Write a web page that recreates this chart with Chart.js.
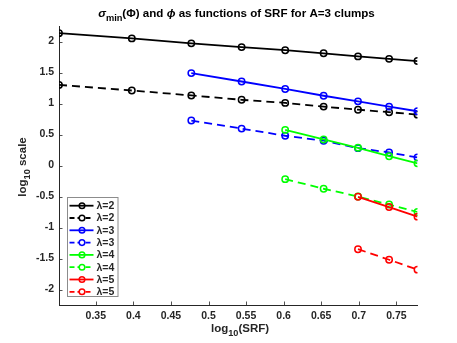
<!DOCTYPE html>
<html>
<head>
<meta charset="utf-8">
<script src="https://cdn.jsdelivr.net/npm/chart.js@4"></script>
<style>
  html, body { margin: 0; padding: 0; background: #fff; }
  canvas { display: block; }
</style>
</head>
<body>
<canvas id="myChart" width="457" height="343"></canvas>
<script>
// SRF values (x axis is log10 of these)
const srf = [2, 2.5, 3, 3.5, 4, 4.5, 5, 5.5, 6];

// log10 of sigma_min(Phi) (solid) and phi (dashed), by lambda
const lam2Sigma = [2.135, 2.05, 1.97, 1.91, 1.86, 1.81, 1.76, 1.72, 1.685];
const lam2Phi = [1.30, 1.21, 1.13, 1.06, 1.01, 0.95, 0.90, 0.86, 0.82];
const lam3Sigma = [1.49, 1.355, 1.235, 1.125, 1.035, 0.95, 0.875];
const lam3Phi = [0.725, 0.595, 0.48, 0.40, 0.28, 0.21, 0.13];
const lam4Sigma = [0.574, 0.42, 0.286, 0.15, 0.035];
const lam4Phi = [-0.22, -0.375, -0.5, -0.63, -0.75];
const lam5Sigma = [-0.505, -0.67, -0.825];
const lam5Phi = [-1.35, -1.52, -1.68];

const xTicks = [0.35, 0.4, 0.45, 0.5, 0.55, 0.6, 0.65, 0.7, 0.75];
const yTicks = [-2, -1.5, -1, -0.5, 0, 0.5, 1, 1.5, 2];
const legendLabels = ['λ=2', 'λ=2', 'λ=3', 'λ=3', 'λ=4', 'λ=4', 'λ=5', 'λ=5'];

const axisColor = '#262626';
const font = 'Liberation Sans, Arial, Helvetica, sans-serif';

// series start at the tail of srf
function toPoints(values) {
    const start = srf.length - values.length;
    return values.map((v, i) => ({ x: Math.log10(srf[start + i]), y: v }));
}

function makeSet(label, values, color, dashed, idx) {
    return {
        label: label,
        data: toPoints(values),
        borderColor: color,
        backgroundColor: '#fff',
        borderWidth: 1.8,
        borderDash: dashed ? [8, 5] : [],
        pointRadius: 3.2,
        pointBorderWidth: 1.5,
        pointBackgroundColor: 'rgba(255,255,255,0)',
        pointBorderColor: color,
        pointStyle: 'circle',
        tension: 0,
        order: 20 - idx,
    };
}

const seriesList = [lam2Sigma, lam2Phi, lam3Sigma, lam3Phi, lam4Sigma, lam4Phi, lam5Sigma, lam5Phi];
const seriesColors = ['#000000', '#000000', '#0000ff', '#0000ff', '#00ff00', '#00ff00', '#ff0000', '#ff0000'];
const datasets = seriesList.map((s, i) => makeSet(legendLabels[i], s, seriesColors[i], i % 2 === 1, i));

// draws text parts left to right, with subscripts and italics
function drawParts(ctx, parts, size) {
    let total = 0;
    parts.forEach(p => {
        ctx.font = (p.italic ? 'italic ' : '') + 'bold ' + (p.sub ? size * 0.8 : size) + 'px ' + font;
        p.w = ctx.measureText(p.t).width;
        total += p.w;
    });
    let x = -total / 2;
    parts.forEach(p => {
        ctx.font = (p.italic ? 'italic ' : '') + 'bold ' + (p.sub ? size * 0.8 : size) + 'px ' + font;
        ctx.fillText(p.t, x, p.sub ? size * 0.35 : 0);
        x += p.w;
    });
}

const decorPlugin = {
    id: 'decor',
    beforeDatasetsDraw(chart) {
        const ctx = chart.ctx;
        const area = chart.chartArea;
        const xs = chart.scales.x;
        const ys = chart.scales.y;
        ctx.save();
        ctx.strokeStyle = axisColor;
        ctx.lineWidth = 0.8;
        ctx.beginPath();
        xTicks.forEach(v => {
            const px = Math.round(xs.getPixelForValue(v)) + 0.5;
            ctx.moveTo(px, area.bottom);
            ctx.lineTo(px, area.bottom - 3.5);
        });
        yTicks.forEach(v => {
            const py = Math.round(ys.getPixelForValue(v)) + 0.5;
            ctx.moveTo(area.left, py);
            ctx.lineTo(area.left + 3.5, py);
        });
        ctx.stroke();
        ctx.restore();
    },
    afterDraw(chart) {
        const ctx = chart.ctx;
        const area = chart.chartArea;
        ctx.save();
        ctx.fillStyle = '#000';
        ctx.textBaseline = 'alphabetic';
        ctx.textAlign = 'left';

        // title
        ctx.save();
        ctx.translate(236.5, 17);
        drawParts(ctx, [
            { t: 'σ', italic: true },
            { t: 'min', sub: true },
            { t: '(Φ) and ' },
            { t: 'ϕ', italic: true },
            { t: ' as functions of SRF for A=3 clumps' },
        ], 11.6);
        ctx.restore();

        // x label
        ctx.fillStyle = axisColor;
        ctx.save();
        ctx.translate(240, 332);
        drawParts(ctx, [{ t: 'log' }, { t: '10', sub: true }, { t: '(SRF)' }], 11.5);
        ctx.restore();

        // y label
        ctx.save();
        ctx.translate(26, 167);
        ctx.rotate(-Math.PI / 2);
        drawParts(ctx, [{ t: 'log' }, { t: '10', sub: true }, { t: ' scale' }], 11.5);
        ctx.restore();

        // legend inside the axes, lower left
        const lx = 67.5, ly = 197.5, lw = 50.5, lh = 99;
        ctx.fillStyle = '#fff';
        ctx.fillRect(lx, ly, lw, lh);
        ctx.strokeStyle = '#8c8c8c';
        ctx.lineWidth = 1;
        ctx.strokeRect(lx, ly, lw, lh);
        chart.data.datasets.forEach((ds, i) => {
            const y = 205.7 + i * 12.3;
            ctx.strokeStyle = ds.borderColor;
            ctx.lineWidth = 1.8;
            ctx.setLineDash(ds.borderDash.length ? [5, 3] : []);
            ctx.beginPath();
            ctx.moveTo(69.5, y);
            ctx.lineTo(93.5, y);
            ctx.stroke();
            ctx.setLineDash([]);
            ctx.lineWidth = 1.5;
            ctx.fillStyle = '#fff';
            ctx.beginPath();
            ctx.arc(82, y, 2.8, 0, Math.PI * 2);
            if (ds.borderDash.length) ctx.fill();
            ctx.stroke();
            ctx.fillStyle = axisColor;
            ctx.font = 'bold 10.5px ' + font;
            ctx.textBaseline = 'middle';
            ctx.fillText(ds.label, 96.5, y + 0.5);
        });
        ctx.restore();
    },
};

const ctx = document.getElementById('myChart').getContext('2d');

new Chart(ctx, {
    type: 'line',
    data: { datasets: datasets },
    options: {
        responsive: false,
        animation: false,
        devicePixelRatio: 1,
        layout: { padding: { top: 26, right: 39.5, left: 0, bottom: 0 } },
        plugins: {
            legend: { display: false },
            title: { display: false },
            tooltip: { enabled: false },
        },
        scales: {
            x: {
                type: 'linear',
                min: Math.log10(srf[0]),
                max: Math.log10(srf[srf.length - 1]),
                afterBuildTicks: (scale) => { scale.ticks = xTicks.map(v => ({ value: v })); },
                afterFit: (scale) => { scale.height = 38; },
                grid: { display: false, drawTicks: false },
                border: { display: true, color: axisColor, width: 1 },
                ticks: {
                    padding: 5,
                    maxRotation: 0,
                    color: axisColor,
                    font: { family: font, size: 10.5, weight: 'bold' },
                    callback: (v) => String(Math.round(v * 100) / 100),
                },
            },
            y: {
                type: 'linear',
                min: -2.25,
                max: 2.25,
                afterBuildTicks: (scale) => { scale.ticks = yTicks.map(v => ({ value: v })); },
                afterFit: (scale) => { scale.width = 59; },
                grid: { display: false, drawTicks: false },
                border: { display: true, color: axisColor, width: 1 },
                ticks: {
                    padding: 5,
                    color: axisColor,
                    font: { family: font, size: 10.5, weight: 'bold' },
                    callback: (v) => String(v),
                },
            },
        },
    },
    plugins: [decorPlugin],
});
</script>
</body>
</html>
